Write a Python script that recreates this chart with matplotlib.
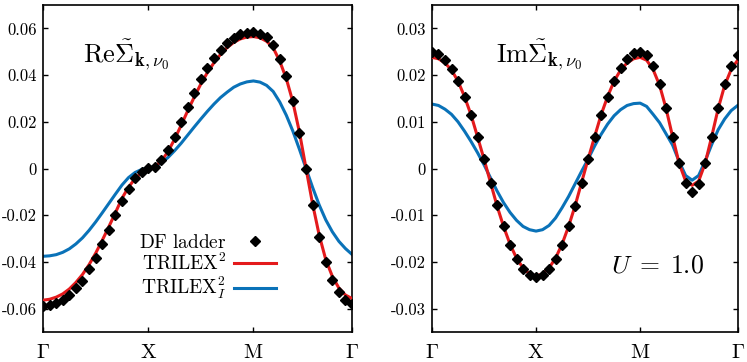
import numpy as np
import matplotlib
matplotlib.use("Agg")
import matplotlib.pyplot as plt

plt.rcParams['font.family'] = 'serif'
plt.rcParams['font.serif'] = ['cmr10', 'DejaVu Serif']
plt.rcParams['mathtext.fontset'] = 'cm'
plt.rcParams['axes.unicode_minus'] = False
plt.rcParams['axes.formatter.use_mathtext'] = True

# k-path index: Gamma -> X -> M -> Gamma
k_index = np.arange(48)
k_ticks = [0, 16, 32, 47]
k_labels = [r'$\Gamma$', r'$\mathrm{X}$', r'$\mathrm{M}$', r'$\Gamma$']

# Re Sigma(k, nu0)
re_df = [-0.0587, -0.0584, -0.0576, -0.0562, -0.0540, -0.0512, -0.0480, -0.0430,
         -0.0383, -0.0324, -0.0265, -0.0201, -0.0140, -0.0086, -0.0041, -0.0013,
         0.0001, 0.0008, 0.0036, 0.0080, 0.0135, 0.0198, 0.0262, 0.0322,
         0.0382, 0.0430, 0.0473, 0.0509, 0.0539, 0.0560, 0.0575, 0.0582,
         0.0583, 0.0578, 0.0562, 0.0527, 0.0471, 0.0397, 0.0290, 0.0154,
         -0.0003, -0.0158, -0.0294, -0.0401, -0.0479, -0.0531, -0.0563, -0.0581]
re_trilex = [-0.0564, -0.0560, -0.0551, -0.0537, -0.0516, -0.0488, -0.0454, -0.0412,
             -0.0363, -0.0308, -0.0250, -0.0190, -0.0128, -0.0080, -0.0043, -0.0018,
             -0.0004, 0.0008, 0.0032, 0.0072, 0.0125, 0.0185, 0.0247, 0.0306,
             0.0362, 0.0411, 0.0453, 0.0489, 0.0518, 0.0540, 0.0555, 0.0563,
             0.0565, 0.0560, 0.0545, 0.0517, 0.0460, 0.0385, 0.0285, 0.0155,
             0.0000, -0.0152, -0.0285, -0.0390, -0.0462, -0.0512, -0.0542, -0.0557]
re_trilex_i = [-0.0376, -0.0374, -0.0369, -0.0359, -0.0344, -0.0323, -0.0297, -0.0265,
               -0.0229, -0.0190, -0.0150, -0.0110, -0.0071, -0.0039, -0.0017, -0.0004,
               0.0003, 0.0009, 0.0024, 0.0047, 0.0076, 0.0108, 0.0143, 0.0178,
               0.0212, 0.0245, 0.0276, 0.0304, 0.0327, 0.0348, 0.0362, 0.0371,
               0.0375, 0.0370, 0.0356, 0.0330, 0.0285, 0.0228, 0.0160, 0.0082,
               0.0000, -0.0081, -0.0156, -0.0220, -0.0271, -0.0312, -0.0343, -0.0368]

# Im Sigma(k, nu0)
im_df = [0.0249, 0.0245, 0.0233, 0.0213, 0.0187, 0.0154, 0.0114, 0.0068,
         0.0020, -0.0030, -0.0079, -0.0124, -0.0163, -0.0194, -0.0216, -0.0229,
         -0.0232, -0.0229, -0.0216, -0.0194, -0.0163, -0.0124, -0.0080, -0.0030,
         0.0020, 0.0068, 0.0115, 0.0154, 0.0187, 0.0215, 0.0234, 0.0247,
         0.0249, 0.0244, 0.0220, 0.0181, 0.0130, 0.0068, 0.0011, -0.0031,
         -0.0051, -0.0033, 0.0011, 0.0068, 0.0130, 0.0181, 0.0220, 0.0244]
im_trilex = [0.0238, 0.0235, 0.0226, 0.0211, 0.0187, 0.0154, 0.0115, 0.0068,
             0.0020, -0.0030, -0.0080, -0.0124, -0.0162, -0.0192, -0.0213, -0.0226,
             -0.0230, -0.0226, -0.0213, -0.0192, -0.0162, -0.0124, -0.0080, -0.0030,
             0.0020, 0.0068, 0.0115, 0.0154, 0.0187, 0.0211, 0.0226, 0.0235,
             0.0238, 0.0232, 0.0212, 0.0178, 0.0128, 0.0068, 0.0011, -0.0027,
             -0.0036, -0.0027, 0.0011, 0.0068, 0.0128, 0.0178, 0.0212, 0.0232]
im_trilex_i = [0.0138, 0.0135, 0.0127, 0.0116, 0.0100, 0.0080, 0.0058, 0.0034,
               0.0008, -0.0020, -0.0048, -0.0073, -0.0094, -0.0111, -0.0124, -0.0131,
               -0.0134, -0.0131, -0.0122, -0.0106, -0.0084, -0.0060, -0.0033, -0.0006,
               0.0020, 0.0048, 0.0073, 0.0095, 0.0113, 0.0126, 0.0135, 0.0139,
               0.0140, 0.0133, 0.0116, 0.0098, 0.0074, 0.0050, 0.0015, -0.0015,
               -0.0025, -0.0015, 0.0016, 0.0051, 0.0083, 0.0106, 0.0124, 0.0135]

re_yticks = [-0.06, -0.04, -0.02, 0, 0.02, 0.04, 0.06]
re_ylabels = ['-0.06', '-0.04', '-0.02', '0', '0.02', '0.04', '0.06']
im_yticks = [-0.03, -0.02, -0.01, 0, 0.01, 0.02, 0.03]
im_ylabels = ['-0.03', '-0.02', '-0.01', '0', '0.01', '0.02', '0.03']

RED = '#e41a1c'
BLUE = '#0a72b8'


def style_axis(ax, yticks, ylabels, ylim):
    ax.set_xlim(0, 47)
    ax.set_ylim(*ylim)
    ax.set_xticks(k_ticks)
    ax.set_xticklabels(k_labels, fontsize=15)
    ax.set_yticks(yticks)
    ax.set_yticklabels(ylabels, fontsize=12)
    ax.tick_params(axis='both', direction='in', top=True, right=True,
                   length=3.6, width=1.0)
    ax.tick_params(axis='x', pad=8.5)
    ax.tick_params(axis='y', pad=4.5)
    for s in ax.spines.values():
        s.set_linewidth(1.2)


fig = plt.figure(figsize=(7.47, 3.62), dpi=100)
ax1 = fig.add_axes([0.0576, 0.083, 0.4137, 0.903])
ax2 = fig.add_axes([0.5783, 0.083, 0.4092, 0.903])

# left panel
ax1.plot(k_index, re_trilex_i, color=BLUE, lw=2.2, label=r'$\mathrm{TRILEX}^2_I$', zorder=2)
ax1.plot(k_index, re_trilex, color=RED, lw=2.2, label=r'$\mathrm{TRILEX}^2$', zorder=3)
ax1.plot(k_index, re_df, ls='none', marker='D', ms=4.6, color='black',
         label=r'$\mathrm{DF\ ladder}$', zorder=4)
style_axis(ax1, re_yticks, re_ylabels, (-0.07, 0.07))
ax1.text(0.13, 0.826, r'$\mathrm{Re}\tilde{\Sigma}_{\mathbf{k},\nu_0}$',
         transform=ax1.transAxes, fontsize=19, va='baseline')

h, l = ax1.get_legend_handles_labels()
ax1.legend(h[::-1], l[::-1], loc='center right', bbox_to_anchor=(0.785, 0.197),
           frameon=False, markerfirst=False, fontsize=14, borderpad=0,
           handlelength=2.15, handletextpad=0.4, labelspacing=0.06, numpoints=1)

# right panel
ax2.plot(k_index, im_trilex_i, color=BLUE, lw=2.2, zorder=2)
ax2.plot(k_index, im_trilex, color=RED, lw=2.2, zorder=3)
ax2.plot(k_index, im_df, ls='none', marker='D', ms=4.6, color='black', zorder=4)
style_axis(ax2, im_yticks, im_ylabels, (-0.035, 0.035))
ax2.text(0.21, 0.826, r'$\mathrm{Im}\tilde{\Sigma}_{\mathbf{k},\nu_0}$',
         transform=ax2.transAxes, fontsize=19, va='baseline')
ax2.text(0.585, 0.183, r'$U\;=\;1.0$', transform=ax2.transAxes, fontsize=18.5,
         va='baseline')

fig.savefig('out.png', dpi=100)
